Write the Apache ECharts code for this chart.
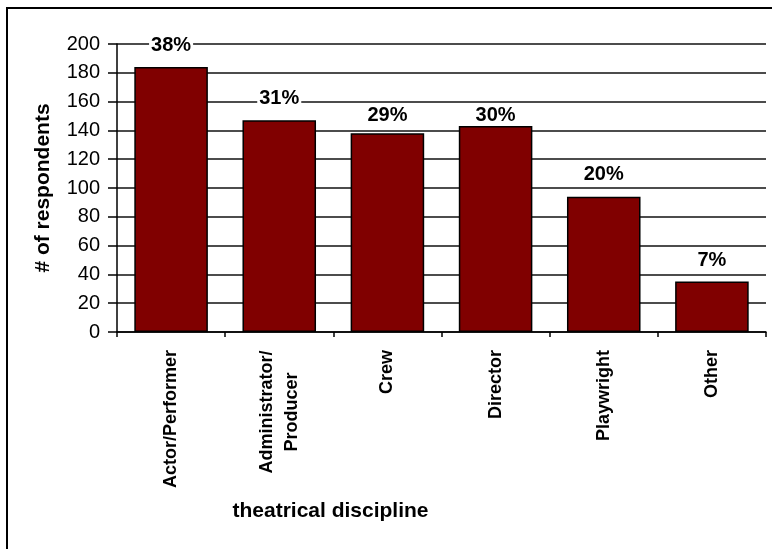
<!DOCTYPE html>
<html>
<head>
<meta charset="utf-8">
<script src="https://cdn.jsdelivr.net/npm/echarts@6/dist/echarts.min.js"></script>
<style>
html,body{margin:0;padding:0;background:#fff;}
#chart{width:772px;height:549px;}
</style>
</head>
<body>
<div id="chart"></div>
<script>
var categories = ['Actor/Performer', 'Administrator/\nProducer', 'Crew', 'Director', 'Playwright', 'Other'];
var respondents = [184, 147, 138, 143, 94, 35];
var percentLabels = ['38%', '31%', '29%', '30%', '20%', '7%'];
var labelDistances = [12, 12, 8, 1, 12, 11];
var yTicks = { min: 0, max: 200, interval: 20 };

var FONT = '"Liberation Sans", Arial, sans-serif';
var chart = echarts.init(document.getElementById('chart'), null, { renderer: 'canvas' });

var data = respondents.map(function (v, i) {
  return { value: v, label: { distance: labelDistances[i] } };
});

var option = {
  animation: false,
  backgroundColor: '#fff',
  grid: { left: 117, right: 6, top: 44, bottom: 217, containLabel: false },
  graphic: [{
    type: 'rect',
    shape: { x: 7, y: 8, width: 800, height: 600 },
    style: { fill: 'none', stroke: '#000', lineWidth: 2 },
    silent: true,
    z: -10
  }],
  xAxis: {
    type: 'category',
    data: categories,
    name: 'theatrical discipline',
    nameLocation: 'middle',
    nameGap: 169,
    nameTextStyle: { fontFamily: FONT, fontSize: 21, fontWeight: 'bold', color: '#000', padding: [0, 222, 0, 0] },
    axisLine: { lineStyle: { color: '#000', width: 1.5 } },
    axisTick: { show: true, length: 5, lineStyle: { color: '#000', width: 1.5 } },
    axisLabel: {
      interval: 0,
      rotate: 90,
      margin: 18,
      fontFamily: FONT,
      fontSize: 18,
      fontWeight: 'bold',
      color: '#000',
      lineHeight: 24,
      formatter: function (v) {
        if (v.indexOf('\n') >= 0) {
          return v.split('\n').map(function (s) { return '{c|' + s + '}'; }).join('\n');
        }
        return v;
      },
      rich: {
        c: { width: 124, align: 'center', fontFamily: FONT, fontSize: 18, fontWeight: 'bold', color: '#000', lineHeight: 25 }
      }
    },
    splitLine: { show: false }
  },
  yAxis: {
    type: 'value',
    min: yTicks.min,
    max: yTicks.max,
    interval: yTicks.interval,
    name: '# of respondents',
    nameLocation: 'middle',
    nameGap: 63,
    nameTextStyle: { fontFamily: FONT, fontSize: 21, fontWeight: 'bold', color: '#000' },
    axisLine: { show: true, lineStyle: { color: '#000', width: 1.5 } },
    axisTick: { show: true, length: 9, lineStyle: { color: '#000', width: 1.5 } },
    axisLabel: { margin: 17, fontFamily: FONT, fontSize: 20, color: '#000' },
    splitLine: { show: true, lineStyle: { color: '#111', width: 1.5 } }
  },
  series: [{
    type: 'bar',
    data: data,
    barCategoryGap: '32%',
    itemStyle: { color: '#800000', borderColor: '#000', borderWidth: 1.5 },
    label: {
      show: true,
      position: 'top',
      fontFamily: FONT,
      fontSize: 20,
      fontWeight: 'bold',
      color: '#000',
      backgroundColor: '#fff',
      padding: [0, 2],
      formatter: function (p) { return percentLabels[p.dataIndex]; }
    }
  }]
};
chart.setOption(option);
</script>
</body>
</html>
